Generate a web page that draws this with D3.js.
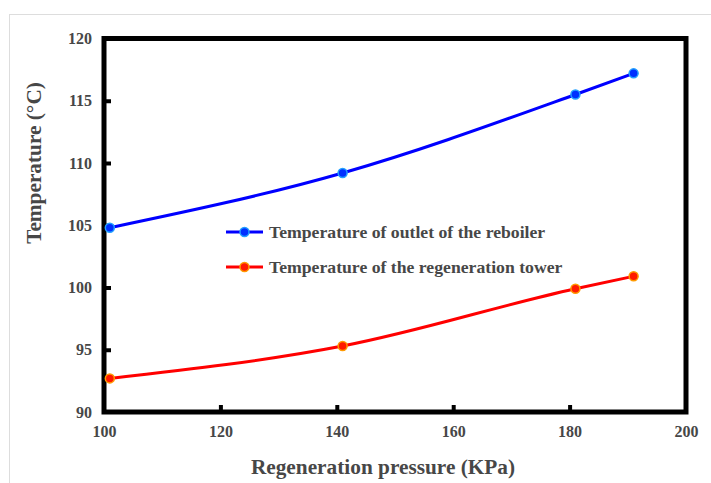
<!DOCTYPE html>
<html><head><meta charset="utf-8">
<script src="https://cdn.jsdelivr.net/npm/d3@7"></script>
<style>body{margin:0;background:#fff}svg{display:block}</style>
</head><body>
<script>
const pressure = [101, 141, 181, 191];
const reboilerTemp = [104.8, 109.2, 115.5, 117.2];
const towerTemp = [92.7, 95.3, 99.9, 100.9];
const xTicks = [100, 120, 140, 160, 180, 200];
const yTicks = [90, 95, 100, 105, 110, 115, 120];
const seriesNames = ["Temperature of outlet of the reboiler", "Temperature of the regeneration tower"];

const W = 711, H = 483;
const svg = d3.select("body").append("svg").attr("width", W).attr("height", H);
const font = "'Liberation Serif','Times New Roman',serif";
const txt = "#474747";

// faint frame lines
svg.append("line").attr("x1", 9).attr("x2", W).attr("y1", 14.5).attr("y2", 14.5).attr("stroke", "#ddd").attr("stroke-width", 1);
svg.append("line").attr("x1", 9.5).attr("x2", 9.5).attr("y1", 14).attr("y2", H).attr("stroke", "#ddd").attr("stroke-width", 1);

const x = d3.scaleLinear().domain([100, 200]).range([104, 686]);
const y = d3.scaleLinear().domain([90, 120]).range([412, 38.5]);

// frame
svg.append("rect").attr("x", x(100)).attr("y", y(120)).attr("width", x(200) - x(100)).attr("height", y(90) - y(120))
  .attr("fill", "none").attr("stroke", "#000").attr("stroke-width", 5);

// ticks inward
const xAxis = svg.append("g").attr("transform", `translate(0,${y(90)})`)
  .call(d3.axisBottom(x).tickValues(xTicks).tickSize(-7).tickPadding(14).tickFormat(d3.format("d")));
xAxis.select(".domain").remove();
xAxis.selectAll("line").attr("stroke", "#000").attr("stroke-width", 4);
xAxis.selectAll("text").attr("font-family", font).attr("font-weight", "bold").attr("font-size", 16).attr("fill", txt);

const yAxis = svg.append("g").attr("transform", `translate(${x(100)},0)`)
  .call(d3.axisLeft(y).tickValues(yTicks).tickSize(-7).tickPadding(12).tickFormat(d3.format("d")));
yAxis.select(".domain").remove();
yAxis.selectAll("line").attr("stroke", "#000").attr("stroke-width", 4);
yAxis.selectAll("text").attr("font-family", font).attr("font-weight", "bold").attr("font-size", 16).attr("fill", txt);

// hide ticks at corners
xAxis.selectAll(".tick").filter(d => d === 100 || d === 200).select("line").remove();
yAxis.selectAll(".tick").filter(d => d === 90 || d === 120).select("line").remove();

const line = d3.line().x(d => x(d[0])).y(d => y(d[1])).curve(d3.curveMonotoneX);
const series = [
  {vals: reboilerTemp, color: "#0000ff", fill: "#0030ff", stroke: "#22a0ff"},
  {vals: towerTemp, color: "#ff0000", fill: "#ff1a00", stroke: "#ff9a00"}
];
series.forEach(s => {
  const pts = pressure.map((p, i) => [p, s.vals[i]]);
  svg.append("path").attr("d", line(pts)).attr("fill", "none").attr("stroke", s.color).attr("stroke-width", 3);
  svg.selectAll(null).data(pts).enter().append("circle")
    .attr("cx", d => x(d[0])).attr("cy", d => y(d[1])).attr("r", 4.5)
    .attr("fill", s.fill).attr("stroke", s.stroke).attr("stroke-width", 1.5);
});

// legend
const legY = [232, 267];
series.forEach((s, i) => {
  const g = svg.append("g").attr("transform", `translate(226,${legY[i]})`);
  g.append("line").attr("x1", 0).attr("x2", 37).attr("y1", 0).attr("y2", 0).attr("stroke", s.color).attr("stroke-width", 3);
  g.append("circle").attr("cx", 18.5).attr("cy", 0).attr("r", 4.5).attr("fill", s.fill).attr("stroke", s.stroke).attr("stroke-width", 1.5);
  g.append("text").attr("x", 43).attr("y", 6).text(seriesNames[i])
    .attr("font-family", font).attr("font-weight", "bold").attr("font-size", 17.7).attr("fill", txt);
});

// axis titles
svg.append("text").attr("x", 383).attr("y", 474).attr("text-anchor", "middle").text("Regeneration pressure (KPa)")
  .attr("font-family", font).attr("font-weight", "bold").attr("font-size", 21.3).attr("fill", txt);
svg.append("text").attr("transform", "translate(41,163) rotate(-90)").attr("text-anchor", "middle").text("Temperature (°C)")
  .attr("font-family", font).attr("font-weight", "bold").attr("font-size", 21.3).attr("fill", txt);
</script>
</body></html>
